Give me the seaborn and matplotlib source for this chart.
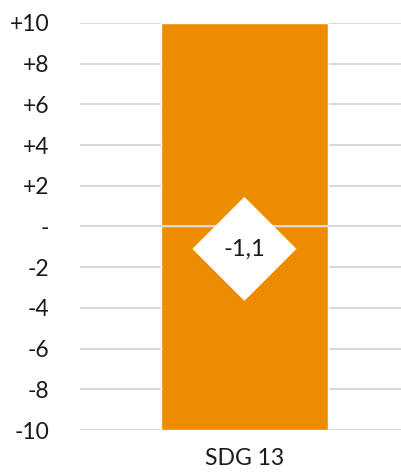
import pandas as pd
import matplotlib
matplotlib.use('Agg')
import matplotlib.pyplot as plt
import seaborn as sns

# Chart values
categories = ['SDG 13']
range_top = [10]
range_bottom = [-10]
scores = [-1.1]
tick_values = [10, 8, 6, 4, 2, 0, -2, -4, -6, -8, -10]
tick_labels = ['+10', '+8', '+6', '+4', '+2', '-', '-2', '-4', '-6', '-8', '-10']

sns.set_style('white')
plt.rcParams['font.family'] = ['Lato', 'DejaVu Sans']

orange = '#EE8C00'
grid_color = '#D9D9D9'
text_color = '#1A1A1A'

df = pd.DataFrame({'category': categories, 'top': range_top,
                   'bottom': range_bottom, 'score': scores})

fig = plt.figure(figsize=(4.02, 4.75), dpi=100)
ax = fig.add_axes([0.199, 0.0947, 0.818, 0.857])

# gridlines behind the bar
for v in tick_values:
    if v != 0:
        ax.axhline(v, color=grid_color, lw=1.5, zorder=0)

# floating bar from -10 to +10 (positive and negative parts)
sns.barplot(data=df, x='category', y='top', color=orange, width=0.51,
            saturation=1, ax=ax, zorder=2)
sns.barplot(data=df, x='category', y='bottom', color=orange, width=0.51,
            saturation=1, ax=ax, zorder=2)

# zero axis line on top of the bar
ax.axhline(0, color=grid_color, lw=1.5, zorder=3)

# score marker
sns.scatterplot(data=df, x='category', y='score', marker='D', s=53 ** 2,
                color='white', edgecolor='none', ax=ax, zorder=4, legend=False)
for i, s in enumerate(scores):
    ax.text(i, s, f'{s:.1f}'.replace('.', ','), ha='center', va='center',
            fontsize=17, color=text_color, zorder=5)

ax.set_ylim(-10, 10)
ax.set_xlim(-0.5, 0.5)
ax.set_yticks(tick_values)
ax.set_yticklabels(tick_labels)
ax.set_xlabel('')
ax.set_ylabel('')
ax.tick_params(axis='both', length=0, labelsize=16.5, colors=text_color)
ax.tick_params(axis='y', pad=22)
ax.tick_params(axis='x', pad=13)
for sp in ax.spines.values():
    sp.set_visible(False)

fig.savefig('out.png', dpi=100)
